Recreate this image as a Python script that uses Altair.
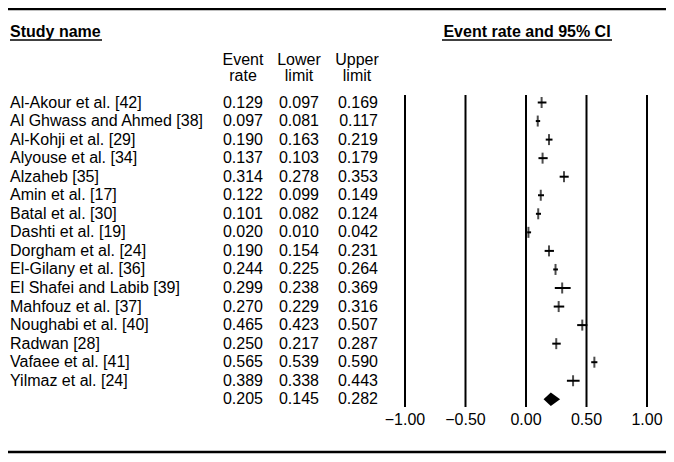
import altair as alt
import pandas as pd

names = ["Al-Akour et al. [42]", "Al Ghwass and Ahmed [38]", "Al-Kohji et al. [29]",
         "Alyouse et al. [34]", "Alzaheb [35]", "Amin et al. [17]", "Batal et al. [30]",
         "Dashti et al. [19]", "Dorgham et al. [24]", "El-Gilany et al. [36]",
         "El Shafei and Labib [39]", "Mahfouz et al. [37]", "Noughabi et al. [40]",
         "Radwan [28]", "Vafaee et al. [41]", "Yilmaz et al. [24]"]
rate = [0.129, 0.097, 0.190, 0.137, 0.314, 0.122, 0.101, 0.020, 0.190, 0.244,
        0.299, 0.270, 0.465, 0.250, 0.565, 0.389]
lower = [0.097, 0.081, 0.163, 0.103, 0.278, 0.099, 0.082, 0.010, 0.154, 0.225,
         0.238, 0.229, 0.423, 0.217, 0.539, 0.338]
upper = [0.169, 0.117, 0.219, 0.179, 0.353, 0.149, 0.124, 0.042, 0.231, 0.264,
         0.369, 0.316, 0.507, 0.287, 0.590, 0.443]
summary_rate, summary_lower, summary_upper = 0.205, 0.145, 0.282
tick_values = [-1.0, -0.5, 0.0, 0.5, 1.0]

FONT = "Liberation Sans"
FS = 16

n = len(names)
studies = pd.DataFrame({"row": list(range(n)), "name": names,
                        "rate": rate, "lower": lower, "upper": upper})
table = pd.concat([studies, pd.DataFrame({"row": [n], "name": [""],
                                          "rate": [summary_rate],
                                          "lower": [summary_lower],
                                          "upper": [summary_upper]})],
                  ignore_index=True)
diamond = pd.DataFrame({"x": [summary_lower, summary_rate, summary_upper],
                        "k": [0.0, 1.0, 0.0], "row": [n, n, n]})
ticks_df = pd.DataFrame({"v": tick_values})

xs = alt.Scale(domain=[-1, 1], range=[397, 639])
ys = alt.Scale(domain=[0, n], range=[94.5, 391.3])

base = alt.Chart(table)

def label(text, x, y, bold=False, align="left", size=FS):
    return alt.Chart(alt.Data(values=[{}])).mark_text(
        text=text, font=FONT, fontSize=size, align=align, baseline="middle",
        fontWeight="bold" if bold else "normal", color="black"
    ).encode(x=alt.value(x), y=alt.value(y))

def hline(x1, x2, y, w=1.5):
    return alt.Chart(alt.Data(values=[{}])).mark_rule(
        color="black", strokeWidth=w
    ).encode(x=alt.value(x1), x2=alt.value(x2), y=alt.value(y))

names_layer = base.mark_text(font=FONT, fontSize=FS, align="left", baseline="middle",
                             color="black").encode(
    x=alt.value(2), y=alt.Y("row:Q", scale=ys, axis=None), text="name:N")

def col(field, xr):
    return base.mark_text(font=FONT, fontSize=FS, align="right", baseline="middle",
                          color="black").encode(
        x=alt.value(xr), y=alt.Y("row:Q", scale=ys, axis=None),
        text=alt.Text(f"{field}:Q", format=".3f"))

grid = alt.Chart(ticks_df).mark_rule(color="black", strokeWidth=2).encode(
    x=alt.X("v:Q", scale=xs, axis=None), y=alt.value(87), y2=alt.value(399))
tick_labels = alt.Chart(ticks_df).mark_text(font=FONT, fontSize=FS, baseline="middle",
                                            color="black").encode(
    x=alt.X("v:Q", scale=xs, axis=None), y=alt.value(412),
    text=alt.Text("v:Q", format=".2f"))

ci = alt.Chart(studies).mark_rule(color="black", strokeWidth=2).encode(
    x=alt.X("lower:Q", scale=xs, axis=None), x2="upper:Q",
    y=alt.Y("row:Q", scale=ys, axis=None))
pt = alt.Chart(studies).mark_tick(orient="vertical", size=11, thickness=2,
                                  color="black").encode(
    x=alt.X("rate:Q", scale=xs, axis=None), y=alt.Y("row:Q", scale=ys, axis=None))
dia = alt.Chart(diamond).mark_area(orient="vertical", color="black", opacity=1).transform_calculate(
    ytop="datum.row - 0.36 * datum.k", ybot="datum.row + 0.36 * datum.k"
).encode(
    x=alt.X("x:Q", scale=xs, axis=None),
    y=alt.Y("ytop:Q", scale=ys, axis=None), y2="ybot:Q")

chart = alt.layer(
    hline(0, 658, 1, 2.5),
    hline(0, 658, 444, 2.5),
    label("Study name", 2, 24, bold=True, size=16),
    hline(2, 94, 32, 1.3),
    label("Event rate and 95% CI", 519, 24, bold=True, align="center", size=16),
    hline(434, 604, 32, 1.3),
    label("Event", 235, 52, align="center"),
    label("rate", 235, 68, align="center"),
    label("Lower", 291, 52, align="center"),
    label("limit", 291, 68, align="center"),
    label("Upper", 349, 52, align="center"),
    label("limit", 349, 68, align="center"),
    names_layer,
    col("rate", 255), col("lower", 311), col("upper", 370),
    grid, tick_labels, ci, pt, dia,
).properties(width=658, height=446, padding=0, autosize="none").configure_view(strokeWidth=0)

chart.save("out.html", embed_options={"renderer": "svg", "actions": False})
